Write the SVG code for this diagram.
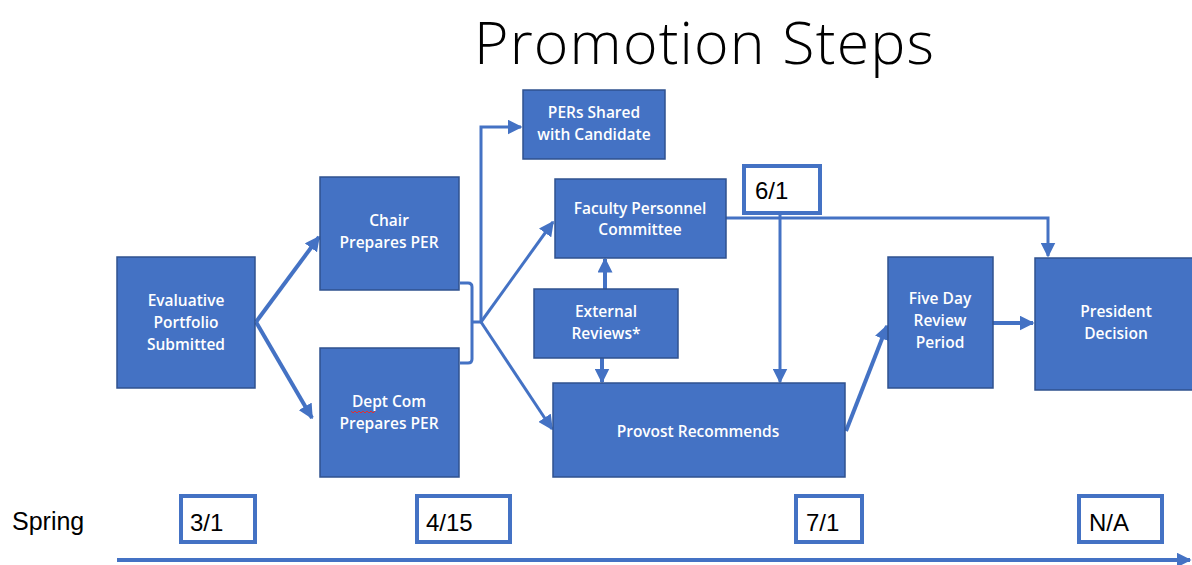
<svg xmlns="http://www.w3.org/2000/svg" width="1192" height="565" viewBox="0 0 1192 565">
  <defs>
    <style>
      .box { fill: #4472C4; stroke: #2F528F; stroke-width: 1.5; }
      .lbl { font-family: "Open Sans", "Liberation Sans", sans-serif; font-size: 15.5px; font-weight: 600; fill: #ffffff; text-anchor: middle; }
      .wire { fill: none; stroke: #4472C4; stroke-width: 4; }
      .thin { fill: none; stroke: #4472C4; stroke-width: 3; }
      .date { fill: #ffffff; stroke: #4472C4; stroke-width: 4; }
      .dtxt { font-family: "Liberation Sans", "Open Sans", sans-serif; font-size: 24px; fill: #000000; }
    </style>
    <marker id="arrow" viewBox="0 0 10 10" refX="9" refY="5" markerWidth="15" markerHeight="15" markerUnits="userSpaceOnUse" orient="auto">
      <path d="M0,0 L10,5 L0,10 Z" fill="#4472C4"/>
    </marker>
  </defs>

  <rect width="1192" height="565" fill="#ffffff"/>

  <text x="704" y="64" font-family="Open Sans, Liberation Sans, sans-serif" font-weight="300" font-size="59" fill="#000000" text-anchor="middle" textLength="460" lengthAdjust="spacing">Promotion Steps</text>

  <!-- connectors -->
  <g id="connectors">
    <line class="wire" x1="256" y1="322" x2="319" y2="237" marker-end="url(#arrow)"/>
    <line class="wire" x1="256" y1="322" x2="312" y2="418" marker-end="url(#arrow)"/>
    <!-- bracket joining the two PER boxes -->
    <path class="thin" d="M460,283 H468 Q472,283 472,287 V359 Q472,363 468,363 H460 M472,322 H481"/>
    <path class="thin" d="M481,322 V127 H521" marker-end="url(#arrow)"/>
    <line class="thin" x1="481" y1="322" x2="553" y2="222" marker-end="url(#arrow)"/>
    <line class="thin" x1="481" y1="322" x2="552" y2="429" marker-end="url(#arrow)"/>
    <line class="wire" x1="605" y1="289" x2="605" y2="259" marker-end="url(#arrow)"/>
    <line class="wire" x1="602" y1="358" x2="602" y2="382" marker-end="url(#arrow)"/>
    <path class="thin" d="M726,218 H1048 V256" marker-end="url(#arrow)"/>
    <line class="thin" x1="780" y1="214" x2="780" y2="382" marker-end="url(#arrow)"/>
    <line class="wire" x1="846" y1="431" x2="887" y2="326" marker-end="url(#arrow)"/>
    <line class="wire" x1="993" y1="323" x2="1033" y2="323" marker-end="url(#arrow)"/>
    <!-- timeline -->
    <line class="wire" x1="117" y1="560" x2="1190" y2="560" marker-end="url(#arrow)"/>
  </g>

  <g id="evaluative">
    <rect class="box" x="117" y="257" width="138" height="131"/>
    <text class="lbl" x="186" y="306">Evaluative</text>
    <text class="lbl" x="186" y="328">Portfolio</text>
    <text class="lbl" x="186" y="350">Submitted</text>
  </g>

  <g id="chair">
    <rect class="box" x="320" y="177" width="139" height="113"/>
    <text class="lbl" x="389" y="226">Chair</text>
    <text class="lbl" x="389" y="248">Prepares PER</text>
  </g>

  <g id="deptcom">
    <rect class="box" x="320" y="348" width="139" height="129"/>
    <text class="lbl" x="389" y="407">Dept Com</text>
    <path d="M351,411 l2,2 l2,-2 l2,2 l2,-2 l2,2 l2,-2 l2,2 l2,-2 l2,2 l2,-2 l2,2 l2,-2" fill="none" stroke="#E03030" stroke-width="1"/>
    <text class="lbl" x="389" y="429">Prepares PER</text>
  </g>

  <g id="pers-shared">
    <rect class="box" x="523" y="90" width="142" height="69"/>
    <text class="lbl" x="594" y="118">PERs Shared</text>
    <text class="lbl" x="594" y="140">with Candidate</text>
  </g>

  <g id="faculty-committee">
    <rect class="box" x="555" y="179" width="171" height="79"/>
    <text class="lbl" x="640" y="214">Faculty Personnel</text>
    <text class="lbl" x="640" y="235">Committee</text>
  </g>

  <g id="external-reviews">
    <rect class="box" x="534" y="289" width="144" height="69"/>
    <text class="lbl" x="606" y="317">External</text>
    <text class="lbl" x="606" y="339">Reviews*</text>
  </g>

  <g id="provost">
    <rect class="box" x="553" y="383" width="292" height="94"/>
    <text class="lbl" x="698" y="437">Provost Recommends</text>
  </g>

  <g id="five-day">
    <rect class="box" x="888" y="257" width="105" height="131"/>
    <text class="lbl" x="940" y="304">Five Day</text>
    <text class="lbl" x="940" y="326">Review</text>
    <text class="lbl" x="940" y="348">Period</text>
  </g>

  <g id="president">
    <rect class="box" x="1035" y="258" width="160" height="132"/>
    <text class="lbl" x="1116" y="317">President</text>
    <text class="lbl" x="1116" y="339">Decision</text>
  </g>

  <!-- dates -->
  <g id="date-6-1">
    <rect class="date" x="744" y="166" width="76" height="47"/>
    <text class="dtxt" x="755" y="199">6/1</text>
  </g>

  <g id="timeline-labels">
    <text x="12" y="530" font-family="Liberation Sans, Open Sans, sans-serif" font-size="25" fill="#000000">Spring</text>
  </g>

  <g id="date-3-1">
    <rect class="date" x="181" y="496" width="74" height="46"/>
    <text class="dtxt" x="190" y="531">3/1</text>
  </g>
  <g id="date-4-15">
    <rect class="date" x="417" y="496" width="93" height="46"/>
    <text class="dtxt" x="426" y="531">4/15</text>
  </g>
  <g id="date-7-1">
    <rect class="date" x="796" y="496" width="66" height="46"/>
    <text class="dtxt" x="806" y="531">7/1</text>
  </g>
  <g id="date-na">
    <rect class="date" x="1079" y="496" width="83" height="46"/>
    <text class="dtxt" x="1089" y="531">N/A</text>
  </g>
</svg>
